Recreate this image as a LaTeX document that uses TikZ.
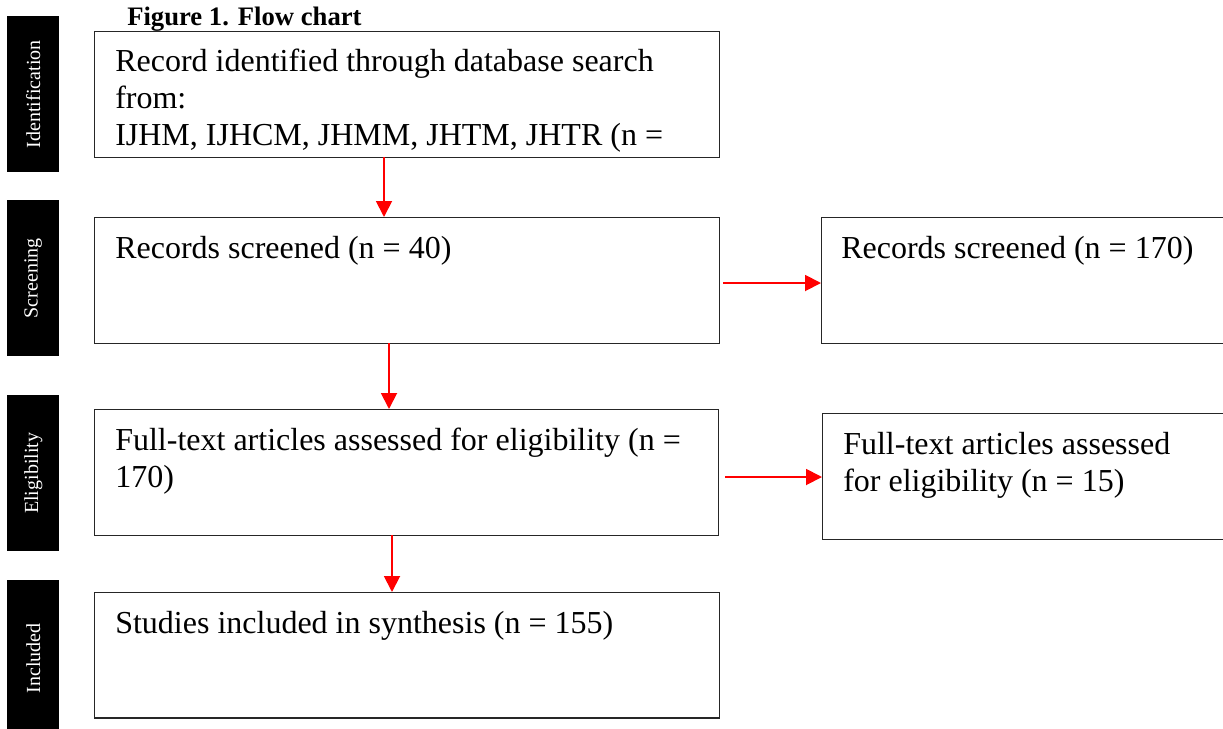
\documentclass[tikz,border=0pt]{standalone}
\usepackage{fontspec}
\setmainfont{Liberation Serif}
\usetikzlibrary{arrows.meta}
\begin{document}
\begin{tikzpicture}[x=0.75pt,y=-0.75pt,
  box/.style={draw=black!85,line width=1.1pt,rectangle,inner sep=0pt},
  stage/.style={fill=black,inner sep=0pt},
  stagetext/.style={text=white,font=\fontsize{15}{18}\selectfont,rotate=90},
  body/.style={anchor=base west,inner sep=0pt,align=left,font=\fontsize{24}{27.4}\selectfont},
  flow/.style={draw=red,line width=1.4pt,-{Triangle[width=12pt,length=12pt]}}]
\clip (0,0) rectangle (1223,728);
\fill[white] (0,0) rectangle (1223,728);
% stage labels
\node[stage,minimum width=39pt,minimum height=117pt,anchor=north west] (sI) at (7,16) {};
\node[stagetext] at (sI.center) {Identification};
\node[stage,minimum width=39pt,minimum height=117pt,anchor=north west] (sS) at (7,200) {};
\node[stagetext] at (sS.center) {Screening};
\node[stage,minimum width=39pt,minimum height=117pt,anchor=north west] (sE) at (7,395) {};
\node[stagetext] at (sE.center) {Eligibility};
\node[stage,minimum width=39pt,minimum height=117pt,anchor=north west] (sN) at (7,580) {};
\node[stagetext] at (sN.center) {Included};
% title
\node[anchor=base west,inner sep=0pt,font=\fontsize{20}{24}\selectfont\bfseries] (title) at (127,25) {Figure 1. Flow chart};
% boxes
\node[box,anchor=north west,minimum width=468.75pt,minimum height=94.5pt] (b1) at (94,31) {};
\node[body] (t1) at (115,145) {Record identified through database search\\from:\\IJHM, IJHCM, JHMM, JHTM, JHTR (n =};
\node[box,anchor=north west,minimum width=468.75pt,minimum height=94.5pt] (b2) at (94,217) {};
\node[body] (t2) at (115,258) {Records screened (n = 40)};
\node[box,anchor=north west,minimum width=315pt,minimum height=94.5pt] (b3) at (821,217) {};
\node[body] (t3) at (841,258) {Records screened (n = 170)};
\node[box,anchor=north west,minimum width=468pt,minimum height=94.5pt] (b4) at (94,409) {};
\node[body] (t4) at (115,487) {Full-text articles assessed for eligibility (n =\\170)};
\node[box,anchor=north west,minimum width=315pt,minimum height=94.5pt] (b5) at (822,413) {};
\node[body] (t5) at (843,491) {Full-text articles assessed\\for eligibility (n = 15)};
\node[box,anchor=north west,minimum width=468.75pt,minimum height=94pt] (b6) at (94,592) {};
\node[body] (t6) at (115,633) {Studies included in synthesis (n = 155)};
% connectors
\coordinate (a1) at (384,157);
\coordinate (a2) at (389,343);
\coordinate (a3) at (392,535);
\draw[flow] (a1) -- (a1 |- b2.north);
\draw[flow] (a2) -- (a2 |- b4.north);
\draw[flow] (a3) -- (a3 |- b6.north);
\coordinate (r1) at (723,283);
\coordinate (r2) at (725,477);
\draw[flow] (r1) -- (r1 -| b3.west);
\draw[flow] (r2) -- (r2 -| b5.west);
\end{tikzpicture}
\end{document}
